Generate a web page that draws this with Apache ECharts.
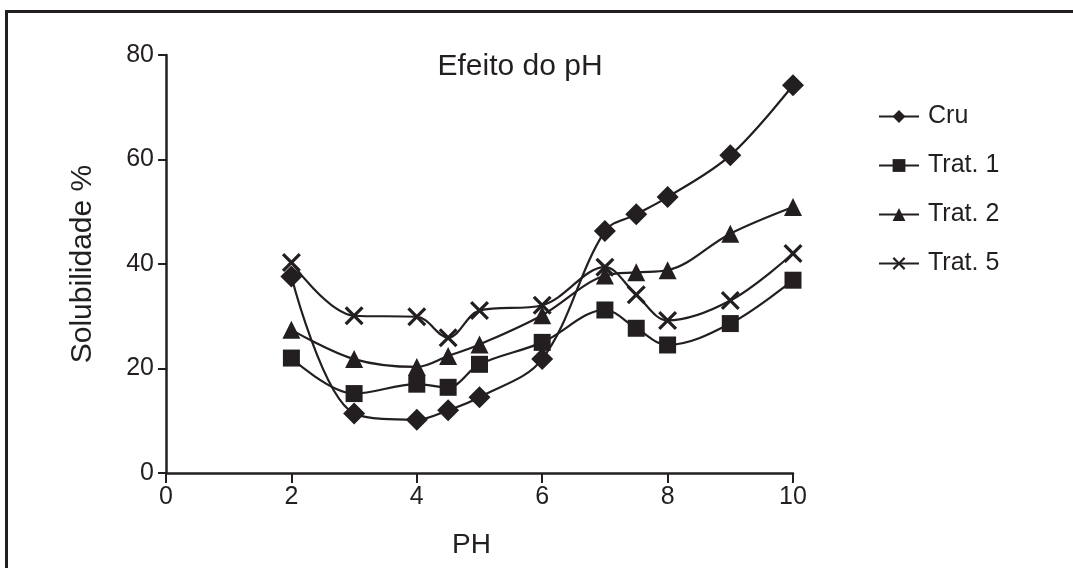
<!DOCTYPE html>
<html><head><meta charset="utf-8">
<script src="https://cdn.jsdelivr.net/npm/echarts@6/dist/echarts.min.js"></script>
<style>
html,body{margin:0;padding:0;background:#fff;}
#frame{position:absolute;left:5px;top:10px;width:1080px;height:570px;border-top:3px solid #231f20;border-left:3px solid #231f20;}
#c{position:absolute;left:0;top:0;width:1073px;height:568px;}
</style></head>
<body><div id="frame"></div><div id="c"></div>
<script>
const phValues = [2, 3, 4, 4.5, 5, 6, 7, 7.5, 8, 9, 10];
const cru    = [37.6, 11.4, 10.2, 12.0, 14.5, 21.8, 46.3, 49.5, 52.8, 60.8, 74.2];
const trat1  = [22.0, 15.2, 17.0, 16.4, 20.8, 25.0, 31.2, 27.7, 24.5, 28.6, 36.9];
const trat2  = [27.4, 21.8, 20.3, 22.4, 24.6, 30.2, 37.8, 38.4, 38.8, 45.8, 50.9];
const trat5  = [40.3, 30.1, 29.9, 25.9, 31.1, 32.1, 39.4, 34.1, 29.2, 33.0, 42.0];
const seriesNames = ['Cru', 'Trat. 1', 'Trat. 2', 'Trat. 5'];
const xTicks = [0, 2, 4, 6, 8, 10];
const yTicks = [0, 20, 40, 60, 80];

const ink = '#231f20';
const font = 'Liberation Sans, Arial, sans-serif';
const xPath = 'path://M0,1.2L1.2,0L5,3.8L8.8,0L10,1.2L6.2,5L10,8.8L8.8,10L5,6.2L1.2,10L0,8.8L3.8,5Z';
const symbols = ['diamond', 'rect', 'triangle', xPath];
const sizes = [22, 17, 18, 19];
const allData = [cru, trat1, trat2, trat5];

const series = allData.map((vals, i) => ({
  name: seriesNames[i],
  type: 'line',
  data: phValues.map((p, j) => [p, vals[j]]),
  smooth: 0.35,
  symbol: symbols[i],
  symbolSize: sizes[i],
  showAllSymbol: true,
  lineStyle: { color: ink, width: 2.2 },
  itemStyle: { color: ink },
  emphasis: { disabled: true },
  z: 3
}));

const chart = echarts.init(document.getElementById('c'), null, { renderer: 'canvas' });
chart.setOption({
  animation: false,
  backgroundColor: 'transparent',
  title: {
    text: 'Efeito do pH', left: 515, top: 47, textAlign: 'center',
    textStyle: { fontFamily: font, fontSize: 30, fontWeight: 'normal', color: ink }
  },
  legend: {
    orient: 'vertical', left: 873, top: 99, itemGap: 24, itemWidth: 40, itemHeight: 16,
    data: seriesNames,
    textStyle: { fontFamily: font, fontSize: 25, color: ink, padding: [0, 0, 0, 4] }
  },
  grid: { left: 166, right: 280, top: 55, bottom: 95, containLabel: false },
  xAxis: {
    type: 'value', min: xTicks[0], max: xTicks[xTicks.length - 1], interval: 2,
    name: 'PH', nameLocation: 'middle', nameGap: 58,
    nameTextStyle: { fontFamily: font, fontSize: 28, color: ink, padding: [0, 16, 0, 0] },
    axisLine: { onZero: false, lineStyle: { color: ink, width: 2.5 } },
    axisTick: { length: 10, lineStyle: { color: ink, width: 2 } },
    axisLabel: { fontFamily: font, fontSize: 25, color: ink, margin: 12 },
    splitLine: { show: false }
  },
  yAxis: {
    type: 'value', min: yTicks[0], max: yTicks[yTicks.length - 1], interval: 20,
    name: 'Solubilidade %', nameLocation: 'middle', nameGap: 68, nameRotate: 90,
    nameTextStyle: { fontFamily: font, fontSize: 30, color: ink },
    axisLine: { show: true, onZero: false, lineStyle: { color: ink, width: 2.5 } },
    axisTick: { show: true, length: 8, lineStyle: { color: ink, width: 2 } },
    axisLabel: { fontFamily: font, fontSize: 25, color: ink, margin: 12 },
    splitLine: { show: false }
  },
  series: series
});
</script></body></html>
